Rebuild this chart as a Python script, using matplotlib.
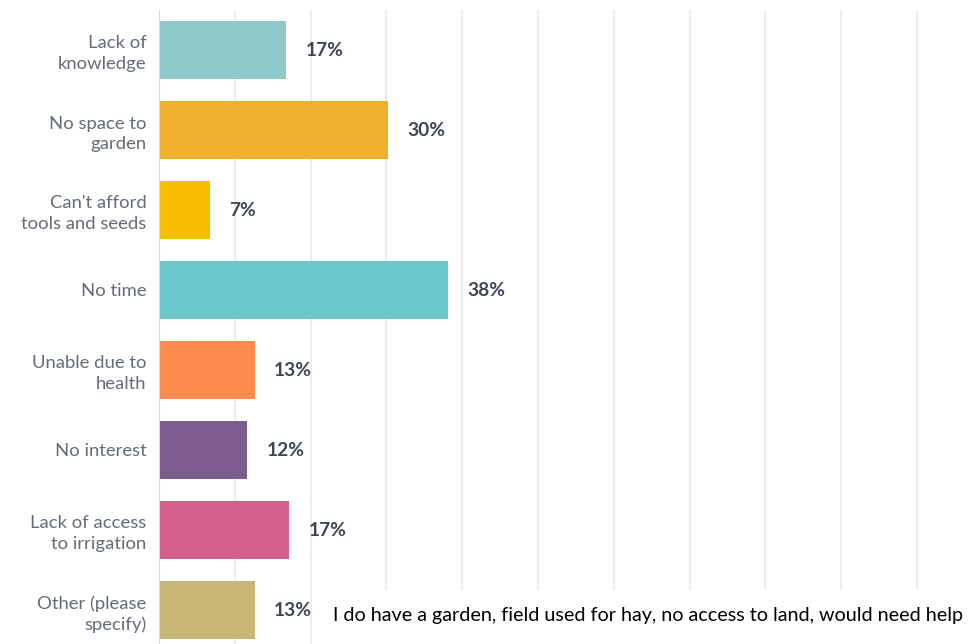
import numpy as np
import matplotlib.pyplot as plt
from matplotlib.patches import Rectangle

categories = ["Lack of\nknowledge", "No space to\ngarden", "Can't afford\ntools and seeds",
              "No time", "Unable due to\nhealth", "No interest",
              "Lack of access\nto irrigation", "Other (please\nspecify)"]
values = [16.8, 30.2, 6.7, 38.1, 12.6, 11.6, 17.2, 12.6]
colors = ["#8fc8c9", "#f0b02f", "#f8be00", "#6bc8cd", "#ff8b4f", "#7d5c8e", "#d25f8c", "#c9b77a"]
note = "I do have a garden, field used for hay, no access to land, would need help"

W, H = 977, 644
fig = plt.figure(figsize=(W / 100, H / 100), dpi=100)
ax = fig.add_axes([159 / W, 0, 1 - 159 / W, (H - 10) / H])

y = np.arange(len(categories))
ax.barh(y, values, height=0.72, color=colors, zorder=2)

ax.set_xlim(0, (W - 159) / 7.58)
ax.set_ylim(7.425, -0.5)
for g in range(10, 101, 10):
    ax.axvline(g, color="#ececec", lw=1.5, zorder=1)
ax.axvline(0, color="#d6d6d6", lw=1.5, zorder=3)

for s in ax.spines.values():
    s.set_visible(False)
ax.set_xticks([])
ax.set_yticks(y)
ax.set_yticklabels(categories, fontsize=13.3, color="#656c74", family="Lato", linespacing=1.38)
ax.tick_params(axis="y", length=0, pad=9)

for yi, v in zip(y, values):
    ax.text(v + 2.6, yi, f"{round(v)}%", va="center", ha="left", fontsize=13.8,
            fontweight="bold", color="#3f4650", family="Lato")

# white strip behind the free-text comment
fig.patches.append(Rectangle((330 / W, 0), 1, 54 / H, transform=fig.transFigure,
                             color="white", zorder=5))
fig.text(333 / W, 28 / H, note, fontsize=14.2, family="Lato", color="black",
         va="center", ha="left", zorder=6)

fig.savefig("out.png", dpi=100)
